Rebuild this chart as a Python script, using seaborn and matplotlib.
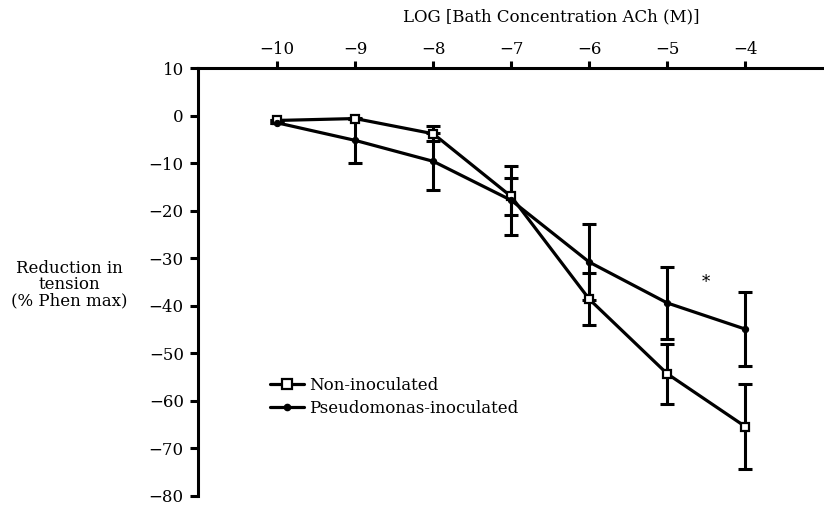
import numpy as np
import pandas as pd
import matplotlib.pyplot as plt
import seaborn as sns

# log bath concentration of ACh (M)
log_conc = [-10, -9, -8, -7, -6, -5, -4]

# reduction in tension (% Phen max), means and error bars
non_inoc = [-1.0, -0.6, -3.8, -17.0, -38.6, -54.3, -65.4]
non_inoc_err = [0.0, 0.0, 1.6, 3.8, 5.4, 6.3, 9.0]
pseudo = [-1.5, -5.2, -9.6, -17.8, -30.8, -39.4, -44.9]
pseudo_err = [0.0, 4.8, 6.0, 7.2, 8.0, 7.6, 7.7]

df = pd.DataFrame({
    'conc': log_conc * 2,
    'value': non_inoc + pseudo,
    'group': ['Non-inoculated'] * 7 + ['Pseudomonas-inoculated'] * 7,
})

sns.set_style('ticks')
plt.rcParams['font.family'] = ['DejaVu Serif', 'Liberation Serif']
plt.rcParams['axes.linewidth'] = 2.2
plt.rcParams['axes.edgecolor'] = 'black'
plt.rcParams['text.color'] = 'black'
plt.rcParams['axes.labelcolor'] = 'black'

fig = plt.figure(figsize=(8.24, 5.05), dpi=100)
ax = fig.add_axes([0.240, 0.018, 0.759, 0.847])

sns.lineplot(data=df, x='conc', y='value', style='group', markers={'Non-inoculated': 's', 'Pseudomonas-inoculated': 'o'},
             dashes=False, color='black', linewidth=2.3, ax=ax, legend=False, zorder=3)

# open squares vs small filled dots
lines = ax.get_lines()
lines[0].set_markerfacecolor('white')
lines[0].set_markeredgecolor('black')
lines[0].set_markersize(5.5)
lines[0].set_markeredgewidth(1.6)
lines[1].set_markerfacecolor('black')
lines[1].set_markeredgecolor('black')
lines[1].set_markersize(4.5)

ax.errorbar(log_conc, non_inoc, yerr=non_inoc_err, fmt='none', ecolor='black', elinewidth=2.2, capsize=5, capthick=2.2, zorder=2)
ax.errorbar(log_conc, pseudo, yerr=pseudo_err, fmt='none', ecolor='black', elinewidth=2.2, capsize=5, capthick=2.2, zorder=2)

ax.text(-4.5, -35.2, '*', ha='center', va='center', fontsize=12)

ax.set_xlim(-11.02, -3.0)
ax.set_ylim(-80, 10)
ax.set_xticks(log_conc)
ax.set_yticks(np.arange(-80, 11, 10))
ax.xaxis.tick_top()
ax.xaxis.set_label_position('top')
ax.spines['bottom'].set_visible(False)
ax.spines['right'].set_visible(False)
ax.tick_params(axis='both', width=2.2, labelsize=12, colors='black')
ax.tick_params(axis='y', length=6, pad=4)
ax.tick_params(axis='x', length=5, pad=2.5)
ax.set_xlabel('LOG [Bath Concentration ACh (M)]', fontsize=12)
ax.xaxis.set_label_coords(0.566, 1.11)
ax.set_ylabel('')
fig.text(0.084, 0.436, 'Reduction in\ntension\n(% Phen max)', ha='center', va='center', fontsize=12, linespacing=0.95)

handles = [plt.Line2D([], [], color='black', lw=2.3, marker='s', markerfacecolor='white', markeredgewidth=1.6, markersize=6.5),
           plt.Line2D([], [], color='black', lw=2.3, marker='o', markersize=4.5)]
fig.legend(handles, ['Non-inoculated', 'Pseudomonas-inoculated'], loc='upper left', bbox_to_anchor=(0.318, 0.27),
           frameon=False, fontsize=12, handlelength=2.0, handletextpad=0.3, labelspacing=0.35, borderpad=0)

fig.savefig('out.png', dpi=100)
